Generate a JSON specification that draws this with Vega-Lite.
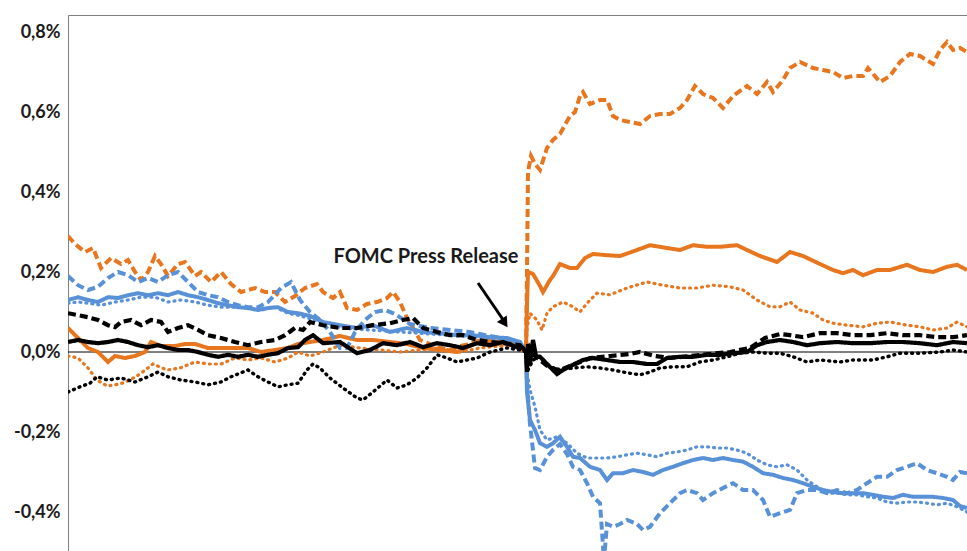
{
"$schema": "https://vega.github.io/schema/vega-lite/v6.json",
"width": 900, "height": 536,
"autosize": "none",
"padding": {"left": 68, "top": 15, "right": 0, "bottom": 0},
"background": "white",
"config": {"view": {"stroke": "#7f7f7f", "strokeWidth": 1}},
"datasets": {
"lines": [
{"s":"od","t":0,"v":0.29},{"s":"od","t":7,"v":0.27},{"s":"od","t":17,"v":0.25},{"s":"od","t":25,"v":0.26},{"s":"od","t":33,"v":0.21},{"s":"od","t":43,"v":0.235},{"s":"od","t":53,"v":0.22},{"s":"od","t":60,"v":0.23},{"s":"od","t":67,"v":0.2},{"s":"od","t":73,"v":0.18},{"s":"od","t":80,"v":0.2},{"s":"od","t":87,"v":0.24},{"s":"od","t":93,"v":0.22},{"s":"od","t":100,"v":0.19},{"s":"od","t":110,"v":0.22},{"s":"od","t":117,"v":0.225},{"s":"od","t":127,"v":0.19},{"s":"od","t":133,"v":0.2},{"s":"od","t":143,"v":0.175},{"s":"od","t":153,"v":0.2},{"s":"od","t":163,"v":0.17},{"s":"od","t":173,"v":0.15},{"s":"od","t":187,"v":0.16},{"s":"od","t":197,"v":0.15},{"s":"od","t":207,"v":0.15},{"s":"od","t":217,"v":0.125},{"s":"od","t":227,"v":0.14},{"s":"od","t":237,"v":0.16},{"s":"od","t":249,"v":0.17},{"s":"od","t":255,"v":0.15},{"s":"od","t":265,"v":0.135},{"s":"od","t":272,"v":0.15},{"s":"od","t":279,"v":0.11},{"s":"od","t":289,"v":0.105},{"s":"od","t":299,"v":0.12},{"s":"od","t":309,"v":0.125},{"s":"od","t":319,"v":0.135},{"s":"od","t":325,"v":0.15},{"s":"od","t":332,"v":0.125},{"s":"od","t":339,"v":0.085},{"s":"od","t":345,"v":0.06},{"s":"od","t":352,"v":0.03},{"s":"od","t":362,"v":0.02},{"s":"od","t":372,"v":0.01},{"s":"od","t":382,"v":0.005},{"s":"od","t":392,"v":0.015},{"s":"od","t":402,"v":0.02},{"s":"od","t":412,"v":0.03},{"s":"od","t":422,"v":0.025},{"s":"od","t":432,"v":0.02},{"s":"od","t":442,"v":0.02},{"s":"od","t":452,"v":0.01},{"s":"od","t":458,"v":0},{"s":"od","t":459,"v":0.2},{"s":"od","t":460,"v":0.45},{"s":"od","t":463,"v":0.49},{"s":"od","t":467,"v":0.47},{"s":"od","t":472,"v":0.455},{"s":"od","t":479,"v":0.51},{"s":"od","t":485,"v":0.53},{"s":"od","t":492,"v":0.545},{"s":"od","t":502,"v":0.59},{"s":"od","t":507,"v":0.6},{"s":"od","t":512,"v":0.64},{"s":"od","t":515,"v":0.65},{"s":"od","t":522,"v":0.62},{"s":"od","t":532,"v":0.63},{"s":"od","t":539,"v":0.63},{"s":"od","t":545,"v":0.59},{"s":"od","t":552,"v":0.58},{"s":"od","t":562,"v":0.575},{"s":"od","t":572,"v":0.57},{"s":"od","t":582,"v":0.59},{"s":"od","t":592,"v":0.595},{"s":"od","t":602,"v":0.595},{"s":"od","t":612,"v":0.61},{"s":"od","t":619,"v":0.63},{"s":"od","t":627,"v":0.665},{"s":"od","t":635,"v":0.645},{"s":"od","t":645,"v":0.635},{"s":"od","t":655,"v":0.61},{"s":"od","t":665,"v":0.64},{"s":"od","t":679,"v":0.665},{"s":"od","t":689,"v":0.645},{"s":"od","t":699,"v":0.675},{"s":"od","t":705,"v":0.65},{"s":"od","t":715,"v":0.68},{"s":"od","t":722,"v":0.71},{"s":"od","t":732,"v":0.725},{"s":"od","t":745,"v":0.71},{"s":"od","t":755,"v":0.705},{"s":"od","t":765,"v":0.7},{"s":"od","t":775,"v":0.685},{"s":"od","t":785,"v":0.69},{"s":"od","t":795,"v":0.69},{"s":"od","t":800,"v":0.71},{"s":"od","t":812,"v":0.675},{"s":"od","t":822,"v":0.69},{"s":"od","t":832,"v":0.725},{"s":"od","t":842,"v":0.745},{"s":"od","t":852,"v":0.74},{"s":"od","t":865,"v":0.72},{"s":"od","t":872,"v":0.755},{"s":"od","t":879,"v":0.775},{"s":"od","t":885,"v":0.755},{"s":"od","t":892,"v":0.76},{"s":"od","t":899,"v":0.75},
{"s":"os","t":0,"v":0.06},{"s":"os","t":10,"v":0.035},{"s":"os","t":20,"v":0.01},{"s":"os","t":30,"v":0},{"s":"os","t":40,"v":-0.025},{"s":"os","t":47,"v":-0.01},{"s":"os","t":57,"v":-0.015},{"s":"os","t":67,"v":-0.01},{"s":"os","t":77,"v":0},{"s":"os","t":83,"v":0.025},{"s":"os","t":93,"v":0.015},{"s":"os","t":107,"v":0.015},{"s":"os","t":117,"v":0.02},{"s":"os","t":127,"v":0.02},{"s":"os","t":140,"v":0.01},{"s":"os","t":153,"v":0.01},{"s":"os","t":167,"v":0.01},{"s":"os","t":180,"v":0.01},{"s":"os","t":193,"v":0},{"s":"os","t":207,"v":0.005},{"s":"os","t":220,"v":0.01},{"s":"os","t":230,"v":0.02},{"s":"os","t":242,"v":0.025},{"s":"os","t":255,"v":0.03},{"s":"os","t":272,"v":0.04},{"s":"os","t":289,"v":0.03},{"s":"os","t":305,"v":0.03},{"s":"os","t":322,"v":0.025},{"s":"os","t":339,"v":0.02},{"s":"os","t":355,"v":0.01},{"s":"os","t":372,"v":0.005},{"s":"os","t":389,"v":0},{"s":"os","t":402,"v":0.015},{"s":"os","t":415,"v":0.03},{"s":"os","t":429,"v":0.025},{"s":"os","t":442,"v":0.03},{"s":"os","t":452,"v":0.02},{"s":"os","t":458,"v":0},{"s":"os","t":459,"v":0.12},{"s":"os","t":460,"v":0.2},{"s":"os","t":465,"v":0.195},{"s":"os","t":472,"v":0.165},{"s":"os","t":475,"v":0.15},{"s":"os","t":482,"v":0.18},{"s":"os","t":485,"v":0.19},{"s":"os","t":492,"v":0.22},{"s":"os","t":502,"v":0.21},{"s":"os","t":509,"v":0.21},{"s":"os","t":517,"v":0.235},{"s":"os","t":525,"v":0.245},{"s":"os","t":539,"v":0.242},{"s":"os","t":552,"v":0.24},{"s":"os","t":569,"v":0.255},{"s":"os","t":582,"v":0.267},{"s":"os","t":599,"v":0.26},{"s":"os","t":612,"v":0.255},{"s":"os","t":625,"v":0.267},{"s":"os","t":639,"v":0.263},{"s":"os","t":652,"v":0.263},{"s":"os","t":669,"v":0.267},{"s":"os","t":679,"v":0.255},{"s":"os","t":692,"v":0.24},{"s":"os","t":709,"v":0.225},{"s":"os","t":722,"v":0.25},{"s":"os","t":735,"v":0.24},{"s":"os","t":752,"v":0.22},{"s":"os","t":765,"v":0.205},{"s":"os","t":775,"v":0.197},{"s":"os","t":785,"v":0.205},{"s":"os","t":795,"v":0.192},{"s":"os","t":809,"v":0.205},{"s":"os","t":822,"v":0.205},{"s":"os","t":839,"v":0.218},{"s":"os","t":852,"v":0.205},{"s":"os","t":865,"v":0.2},{"s":"os","t":879,"v":0.213},{"s":"os","t":889,"v":0.218},{"s":"os","t":899,"v":0.205},
{"s":"ot","t":0,"v":-0.01},{"s":"ot","t":10,"v":-0.015},{"s":"ot","t":20,"v":-0.04},{"s":"ot","t":29,"v":-0.07},{"s":"ot","t":39,"v":-0.085},{"s":"ot","t":52,"v":-0.08},{"s":"ot","t":62,"v":-0.07},{"s":"ot","t":72,"v":-0.055},{"s":"ot","t":85,"v":-0.03},{"s":"ot","t":99,"v":-0.045},{"s":"ot","t":112,"v":-0.04},{"s":"ot","t":127,"v":-0.025},{"s":"ot","t":140,"v":-0.03},{"s":"ot","t":153,"v":-0.03},{"s":"ot","t":167,"v":-0.015},{"s":"ot","t":180,"v":-0.02},{"s":"ot","t":193,"v":-0.015},{"s":"ot","t":207,"v":-0.025},{"s":"ot","t":220,"v":-0.015},{"s":"ot","t":230,"v":0},{"s":"ot","t":242,"v":-0.01},{"s":"ot","t":255,"v":0},{"s":"ot","t":272,"v":0.017},{"s":"ot","t":292,"v":0.01},{"s":"ot","t":312,"v":0.005},{"s":"ot","t":332,"v":0},{"s":"ot","t":352,"v":0.005},{"s":"ot","t":372,"v":0.01},{"s":"ot","t":392,"v":0},{"s":"ot","t":412,"v":0.01},{"s":"ot","t":432,"v":0.015},{"s":"ot","t":447,"v":0.01},{"s":"ot","t":458,"v":0},{"s":"ot","t":459,"v":0.06},{"s":"ot","t":462,"v":0.097},{"s":"ot","t":469,"v":0.08},{"s":"ot","t":474,"v":0.055},{"s":"ot","t":479,"v":0.097},{"s":"ot","t":485,"v":0.113},{"s":"ot","t":495,"v":0.125},{"s":"ot","t":505,"v":0.113},{"s":"ot","t":512,"v":0.1},{"s":"ot","t":519,"v":0.122},{"s":"ot","t":529,"v":0.147},{"s":"ot","t":542,"v":0.143},{"s":"ot","t":559,"v":0.16},{"s":"ot","t":579,"v":0.175},{"s":"ot","t":595,"v":0.167},{"s":"ot","t":612,"v":0.16},{"s":"ot","t":629,"v":0.16},{"s":"ot","t":645,"v":0.167},{"s":"ot","t":662,"v":0.163},{"s":"ot","t":675,"v":0.155},{"s":"ot","t":689,"v":0.13},{"s":"ot","t":702,"v":0.113},{"s":"ot","t":712,"v":0.113},{"s":"ot","t":722,"v":0.125},{"s":"ot","t":732,"v":0.105},{"s":"ot","t":745,"v":0.097},{"s":"ot","t":755,"v":0.08},{"s":"ot","t":765,"v":0.072},{"s":"ot","t":779,"v":0.067},{"s":"ot","t":795,"v":0.063},{"s":"ot","t":809,"v":0.072},{"s":"ot","t":822,"v":0.075},{"s":"ot","t":839,"v":0.067},{"s":"ot","t":852,"v":0.063},{"s":"ot","t":865,"v":0.055},{"s":"ot","t":879,"v":0.06},{"s":"ot","t":889,"v":0.075},{"s":"ot","t":899,"v":0.063},
{"s":"bd","t":0,"v":0.19},{"s":"bd","t":10,"v":0.167},{"s":"bd","t":20,"v":0.155},{"s":"bd","t":30,"v":0.163},{"s":"bd","t":40,"v":0.185},{"s":"bd","t":50,"v":0.2},{"s":"bd","t":60,"v":0.192},{"s":"bd","t":70,"v":0.175},{"s":"bd","t":80,"v":0.185},{"s":"bd","t":90,"v":0.175},{"s":"bd","t":100,"v":0.192},{"s":"bd","t":110,"v":0.2},{"s":"bd","t":120,"v":0.175},{"s":"bd","t":130,"v":0.15},{"s":"bd","t":140,"v":0.142},{"s":"bd","t":150,"v":0.137},{"s":"bd","t":160,"v":0.125},{"s":"bd","t":170,"v":0.117},{"s":"bd","t":180,"v":0.112},{"s":"bd","t":190,"v":0.112},{"s":"bd","t":200,"v":0.125},{"s":"bd","t":213,"v":0.16},{"s":"bd","t":223,"v":0.175},{"s":"bd","t":232,"v":0.13},{"s":"bd","t":242,"v":0.1},{"s":"bd","t":252,"v":0.08},{"s":"bd","t":262,"v":0.05},{"s":"bd","t":272,"v":0.01},{"s":"bd","t":279,"v":0.01},{"s":"bd","t":287,"v":0.05},{"s":"bd","t":297,"v":0.08},{"s":"bd","t":307,"v":0.1},{"s":"bd","t":317,"v":0.105},{"s":"bd","t":327,"v":0.095},{"s":"bd","t":342,"v":0.07},{"s":"bd","t":362,"v":0.06},{"s":"bd","t":382,"v":0.055},{"s":"bd","t":402,"v":0.05},{"s":"bd","t":422,"v":0.04},{"s":"bd","t":442,"v":0.03},{"s":"bd","t":452,"v":0.02},{"s":"bd","t":458,"v":0},{"s":"bd","t":459,"v":-0.08},{"s":"bd","t":462,"v":-0.18},{"s":"bd","t":467,"v":-0.29},{"s":"bd","t":472,"v":-0.295},{"s":"bd","t":479,"v":-0.262},{"s":"bd","t":485,"v":-0.245},{"s":"bd","t":492,"v":-0.23},{"s":"bd","t":499,"v":-0.255},{"s":"bd","t":505,"v":-0.287},{"s":"bd","t":512,"v":-0.295},{"s":"bd","t":519,"v":-0.328},{"s":"bd","t":525,"v":-0.362},{"s":"bd","t":532,"v":-0.378},{"s":"bd","t":536,"v":-0.52},{"s":"bd","t":539,"v":-0.43},{"s":"bd","t":545,"v":-0.437},{"s":"bd","t":552,"v":-0.43},{"s":"bd","t":559,"v":-0.42},{"s":"bd","t":569,"v":-0.43},{"s":"bd","t":575,"v":-0.445},{"s":"bd","t":582,"v":-0.437},{"s":"bd","t":592,"v":-0.403},{"s":"bd","t":602,"v":-0.378},{"s":"bd","t":612,"v":-0.353},{"s":"bd","t":619,"v":-0.345},{"s":"bd","t":629,"v":-0.353},{"s":"bd","t":635,"v":-0.37},{"s":"bd","t":645,"v":-0.353},{"s":"bd","t":655,"v":-0.34},{"s":"bd","t":665,"v":-0.328},{"s":"bd","t":675,"v":-0.345},{"s":"bd","t":685,"v":-0.345},{"s":"bd","t":695,"v":-0.37},{"s":"bd","t":702,"v":-0.412},{"s":"bd","t":712,"v":-0.403},{"s":"bd","t":722,"v":-0.395},{"s":"bd","t":729,"v":-0.353},{"s":"bd","t":739,"v":-0.345},{"s":"bd","t":749,"v":-0.345},{"s":"bd","t":759,"v":-0.353},{"s":"bd","t":769,"v":-0.345},{"s":"bd","t":779,"v":-0.353},{"s":"bd","t":789,"v":-0.345},{"s":"bd","t":799,"v":-0.328},{"s":"bd","t":809,"v":-0.312},{"s":"bd","t":819,"v":-0.312},{"s":"bd","t":829,"v":-0.295},{"s":"bd","t":839,"v":-0.287},{"s":"bd","t":849,"v":-0.278},{"s":"bd","t":859,"v":-0.295},{"s":"bd","t":869,"v":-0.303},{"s":"bd","t":879,"v":-0.312},{"s":"bd","t":885,"v":-0.32},{"s":"bd","t":892,"v":-0.3},{"s":"bd","t":899,"v":-0.303},
{"s":"bs","t":0,"v":0.13},{"s":"bs","t":10,"v":0.137},{"s":"bs","t":20,"v":0.13},{"s":"bs","t":30,"v":0.125},{"s":"bs","t":40,"v":0.137},{"s":"bs","t":50,"v":0.135},{"s":"bs","t":60,"v":0.142},{"s":"bs","t":70,"v":0.147},{"s":"bs","t":80,"v":0.142},{"s":"bs","t":90,"v":0.147},{"s":"bs","t":100,"v":0.142},{"s":"bs","t":110,"v":0.15},{"s":"bs","t":120,"v":0.142},{"s":"bs","t":130,"v":0.137},{"s":"bs","t":140,"v":0.13},{"s":"bs","t":150,"v":0.122},{"s":"bs","t":160,"v":0.117},{"s":"bs","t":170,"v":0.112},{"s":"bs","t":180,"v":0.11},{"s":"bs","t":190,"v":0.105},{"s":"bs","t":200,"v":0.11},{"s":"bs","t":210,"v":0.112},{"s":"bs","t":220,"v":0.1},{"s":"bs","t":230,"v":0.097},{"s":"bs","t":242,"v":0.09},{"s":"bs","t":255,"v":0.075},{"s":"bs","t":272,"v":0.067},{"s":"bs","t":289,"v":0.06},{"s":"bs","t":305,"v":0.067},{"s":"bs","t":322,"v":0.05},{"s":"bs","t":339,"v":0.06},{"s":"bs","t":355,"v":0.05},{"s":"bs","t":372,"v":0.047},{"s":"bs","t":389,"v":0.042},{"s":"bs","t":405,"v":0.042},{"s":"bs","t":422,"v":0.037},{"s":"bs","t":439,"v":0.035},{"s":"bs","t":452,"v":0.025},{"s":"bs","t":458,"v":0},{"s":"bs","t":459,"v":-0.1},{"s":"bs","t":462,"v":-0.17},{"s":"bs","t":467,"v":-0.195},{"s":"bs","t":472,"v":-0.228},{"s":"bs","t":479,"v":-0.237},{"s":"bs","t":485,"v":-0.228},{"s":"bs","t":492,"v":-0.212},{"s":"bs","t":499,"v":-0.237},{"s":"bs","t":505,"v":-0.262},{"s":"bs","t":512,"v":-0.265},{"s":"bs","t":522,"v":-0.287},{"s":"bs","t":532,"v":-0.295},{"s":"bs","t":539,"v":-0.32},{"s":"bs","t":545,"v":-0.303},{"s":"bs","t":555,"v":-0.303},{"s":"bs","t":565,"v":-0.295},{"s":"bs","t":575,"v":-0.3},{"s":"bs","t":585,"v":-0.307},{"s":"bs","t":595,"v":-0.295},{"s":"bs","t":605,"v":-0.287},{"s":"bs","t":615,"v":-0.278},{"s":"bs","t":625,"v":-0.27},{"s":"bs","t":635,"v":-0.265},{"s":"bs","t":645,"v":-0.27},{"s":"bs","t":655,"v":-0.265},{"s":"bs","t":665,"v":-0.27},{"s":"bs","t":675,"v":-0.274},{"s":"bs","t":685,"v":-0.287},{"s":"bs","t":695,"v":-0.303},{"s":"bs","t":705,"v":-0.307},{"s":"bs","t":715,"v":-0.315},{"s":"bs","t":725,"v":-0.32},{"s":"bs","t":735,"v":-0.328},{"s":"bs","t":745,"v":-0.337},{"s":"bs","t":755,"v":-0.345},{"s":"bs","t":765,"v":-0.35},{"s":"bs","t":775,"v":-0.353},{"s":"bs","t":785,"v":-0.353},{"s":"bs","t":795,"v":-0.353},{"s":"bs","t":805,"v":-0.357},{"s":"bs","t":815,"v":-0.362},{"s":"bs","t":825,"v":-0.365},{"s":"bs","t":835,"v":-0.357},{"s":"bs","t":845,"v":-0.362},{"s":"bs","t":855,"v":-0.362},{"s":"bs","t":865,"v":-0.362},{"s":"bs","t":875,"v":-0.365},{"s":"bs","t":885,"v":-0.37},{"s":"bs","t":892,"v":-0.385},{"s":"bs","t":899,"v":-0.39},
{"s":"bt","t":0,"v":0.122},{"s":"bt","t":10,"v":0.125},{"s":"bt","t":20,"v":0.122},{"s":"bt","t":33,"v":0.117},{"s":"bt","t":47,"v":0.125},{"s":"bt","t":60,"v":0.13},{"s":"bt","t":73,"v":0.137},{"s":"bt","t":87,"v":0.137},{"s":"bt","t":100,"v":0.125},{"s":"bt","t":113,"v":0.13},{"s":"bt","t":127,"v":0.125},{"s":"bt","t":140,"v":0.117},{"s":"bt","t":153,"v":0.112},{"s":"bt","t":167,"v":0.112},{"s":"bt","t":180,"v":0.11},{"s":"bt","t":193,"v":0.105},{"s":"bt","t":207,"v":0.112},{"s":"bt","t":220,"v":0.097},{"s":"bt","t":230,"v":0.092},{"s":"bt","t":247,"v":0.08},{"s":"bt","t":272,"v":0.06},{"s":"bt","t":302,"v":0.055},{"s":"bt","t":332,"v":0.05},{"s":"bt","t":362,"v":0.045},{"s":"bt","t":392,"v":0.04},{"s":"bt","t":422,"v":0.035},{"s":"bt","t":442,"v":0.03},{"s":"bt","t":452,"v":0.02},{"s":"bt","t":458,"v":0},{"s":"bt","t":459,"v":-0.05},{"s":"bt","t":462,"v":-0.095},{"s":"bt","t":467,"v":-0.137},{"s":"bt","t":472,"v":-0.195},{"s":"bt","t":479,"v":-0.22},{"s":"bt","t":489,"v":-0.212},{"s":"bt","t":499,"v":-0.228},{"s":"bt","t":509,"v":-0.253},{"s":"bt","t":519,"v":-0.265},{"s":"bt","t":529,"v":-0.265},{"s":"bt","t":539,"v":-0.265},{"s":"bt","t":549,"v":-0.262},{"s":"bt","t":559,"v":-0.257},{"s":"bt","t":569,"v":-0.253},{"s":"bt","t":579,"v":-0.257},{"s":"bt","t":589,"v":-0.262},{"s":"bt","t":599,"v":-0.253},{"s":"bt","t":609,"v":-0.25},{"s":"bt","t":619,"v":-0.245},{"s":"bt","t":629,"v":-0.237},{"s":"bt","t":639,"v":-0.237},{"s":"bt","t":649,"v":-0.24},{"s":"bt","t":659,"v":-0.24},{"s":"bt","t":669,"v":-0.245},{"s":"bt","t":679,"v":-0.253},{"s":"bt","t":689,"v":-0.27},{"s":"bt","t":699,"v":-0.282},{"s":"bt","t":709,"v":-0.287},{"s":"bt","t":719,"v":-0.282},{"s":"bt","t":729,"v":-0.295},{"s":"bt","t":739,"v":-0.32},{"s":"bt","t":749,"v":-0.337},{"s":"bt","t":759,"v":-0.353},{"s":"bt","t":769,"v":-0.353},{"s":"bt","t":779,"v":-0.357},{"s":"bt","t":789,"v":-0.357},{"s":"bt","t":799,"v":-0.362},{"s":"bt","t":809,"v":-0.365},{"s":"bt","t":819,"v":-0.375},{"s":"bt","t":829,"v":-0.378},{"s":"bt","t":839,"v":-0.375},{"s":"bt","t":849,"v":-0.375},{"s":"bt","t":859,"v":-0.378},{"s":"bt","t":869,"v":-0.382},{"s":"bt","t":879,"v":-0.378},{"s":"bt","t":889,"v":-0.387},{"s":"bt","t":899,"v":-0.4},
{"s":"kd","t":0,"v":0.097},{"s":"kd","t":10,"v":0.092},{"s":"kd","t":20,"v":0.087},{"s":"kd","t":30,"v":0.08},{"s":"kd","t":40,"v":0.067},{"s":"kd","t":47,"v":0.062},{"s":"kd","t":53,"v":0.075},{"s":"kd","t":63,"v":0.08},{"s":"kd","t":73,"v":0.067},{"s":"kd","t":83,"v":0.08},{"s":"kd","t":93,"v":0.075},{"s":"kd","t":100,"v":0.05},{"s":"kd","t":110,"v":0.06},{"s":"kd","t":120,"v":0.067},{"s":"kd","t":130,"v":0.055},{"s":"kd","t":140,"v":0.042},{"s":"kd","t":153,"v":0.035},{"s":"kd","t":167,"v":0.025},{"s":"kd","t":180,"v":0.017},{"s":"kd","t":193,"v":0.025},{"s":"kd","t":207,"v":0.03},{"s":"kd","t":217,"v":0.042},{"s":"kd","t":227,"v":0.06},{"s":"kd","t":235,"v":0.055},{"s":"kd","t":242,"v":0.075},{"s":"kd","t":255,"v":0.067},{"s":"kd","t":272,"v":0.06},{"s":"kd","t":289,"v":0.06},{"s":"kd","t":305,"v":0.067},{"s":"kd","t":322,"v":0.072},{"s":"kd","t":335,"v":0.08},{"s":"kd","t":345,"v":0.085},{"s":"kd","t":355,"v":0.06},{"s":"kd","t":369,"v":0.05},{"s":"kd","t":382,"v":0.042},{"s":"kd","t":395,"v":0.042},{"s":"kd","t":409,"v":0.03},{"s":"kd","t":422,"v":0.025},{"s":"kd","t":435,"v":0.022},{"s":"kd","t":452,"v":0.017},{"s":"kd","t":458,"v":0},{"s":"kd","t":459,"v":-0.03},{"s":"kd","t":462,"v":0.01},{"s":"kd","t":467,"v":-0.01},{"s":"kd","t":472,"v":-0.02},{"s":"kd","t":482,"v":-0.04},{"s":"kd","t":492,"v":-0.045},{"s":"kd","t":507,"v":-0.03},{"s":"kd","t":522,"v":-0.015},{"s":"kd","t":542,"v":-0.01},{"s":"kd","t":562,"v":-0.005},{"s":"kd","t":572,"v":0},{"s":"kd","t":587,"v":-0.01},{"s":"kd","t":602,"v":-0.015},{"s":"kd","t":622,"v":-0.01},{"s":"kd","t":642,"v":-0.005},{"s":"kd","t":662,"v":0},{"s":"kd","t":682,"v":0.01},{"s":"kd","t":697,"v":0.035},{"s":"kd","t":712,"v":0.045},{"s":"kd","t":722,"v":0.042},{"s":"kd","t":735,"v":0.037},{"s":"kd","t":752,"v":0.047},{"s":"kd","t":769,"v":0.047},{"s":"kd","t":785,"v":0.042},{"s":"kd","t":802,"v":0.042},{"s":"kd","t":819,"v":0.047},{"s":"kd","t":835,"v":0.042},{"s":"kd","t":852,"v":0.042},{"s":"kd","t":869,"v":0.037},{"s":"kd","t":885,"v":0.037},{"s":"kd","t":899,"v":0.042},
{"s":"ks","t":0,"v":0.025},{"s":"ks","t":10,"v":0.03},{"s":"ks","t":20,"v":0.025},{"s":"ks","t":30,"v":0.022},{"s":"ks","t":40,"v":0.025},{"s":"ks","t":50,"v":0.03},{"s":"ks","t":60,"v":0.025},{"s":"ks","t":70,"v":0.017},{"s":"ks","t":80,"v":0.012},{"s":"ks","t":90,"v":0.017},{"s":"ks","t":100,"v":0.01},{"s":"ks","t":110,"v":0.005},{"s":"ks","t":120,"v":0.005},{"s":"ks","t":130,"v":0},{"s":"ks","t":140,"v":-0.007},{"s":"ks","t":150,"v":-0.012},{"s":"ks","t":160,"v":-0.007},{"s":"ks","t":170,"v":-0.012},{"s":"ks","t":180,"v":-0.007},{"s":"ks","t":190,"v":-0.012},{"s":"ks","t":200,"v":-0.007},{"s":"ks","t":210,"v":-0.003},{"s":"ks","t":220,"v":0.01},{"s":"ks","t":230,"v":0.012},{"s":"ks","t":237,"v":0.03},{"s":"ks","t":245,"v":0.042},{"s":"ks","t":255,"v":0.022},{"s":"ks","t":272,"v":0.025},{"s":"ks","t":289,"v":-0.003},{"s":"ks","t":302,"v":0.005},{"s":"ks","t":315,"v":0.022},{"s":"ks","t":329,"v":0.017},{"s":"ks","t":342,"v":0.025},{"s":"ks","t":355,"v":0.012},{"s":"ks","t":369,"v":0.022},{"s":"ks","t":382,"v":0.017},{"s":"ks","t":395,"v":0.01},{"s":"ks","t":409,"v":0.022},{"s":"ks","t":422,"v":0.017},{"s":"ks","t":435,"v":0.025},{"s":"ks","t":449,"v":0.012},{"s":"ks","t":455,"v":0.01},{"s":"ks","t":458,"v":0},{"s":"ks","t":459,"v":-0.05},{"s":"ks","t":460,"v":0.02},{"s":"ks","t":462,"v":-0.03},{"s":"ks","t":465,"v":0.03},{"s":"ks","t":468,"v":-0.01},{"s":"ks","t":472,"v":-0.012},{"s":"ks","t":479,"v":-0.03},{"s":"ks","t":489,"v":-0.055},{"s":"ks","t":495,"v":-0.045},{"s":"ks","t":505,"v":-0.032},{"s":"ks","t":515,"v":-0.02},{"s":"ks","t":525,"v":-0.015},{"s":"ks","t":539,"v":-0.02},{"s":"ks","t":552,"v":-0.025},{"s":"ks","t":565,"v":-0.025},{"s":"ks","t":579,"v":-0.03},{"s":"ks","t":589,"v":-0.03},{"s":"ks","t":599,"v":-0.015},{"s":"ks","t":612,"v":-0.012},{"s":"ks","t":625,"v":-0.012},{"s":"ks","t":639,"v":-0.007},{"s":"ks","t":652,"v":-0.007},{"s":"ks","t":665,"v":-0.003},{"s":"ks","t":679,"v":0},{"s":"ks","t":689,"v":0.017},{"s":"ks","t":699,"v":0.025},{"s":"ks","t":712,"v":0.03},{"s":"ks","t":725,"v":0.025},{"s":"ks","t":739,"v":0.017},{"s":"ks","t":752,"v":0.022},{"s":"ks","t":769,"v":0.025},{"s":"ks","t":785,"v":0.022},{"s":"ks","t":802,"v":0.022},{"s":"ks","t":819,"v":0.025},{"s":"ks","t":835,"v":0.025},{"s":"ks","t":852,"v":0.022},{"s":"ks","t":869,"v":0.017},{"s":"ks","t":885,"v":0.025},{"s":"ks","t":899,"v":0.022},
{"s":"kt","t":0,"v":-0.1},{"s":"kt","t":12,"v":-0.087},{"s":"kt","t":22,"v":-0.078},{"s":"kt","t":29,"v":-0.062},{"s":"kt","t":40,"v":-0.07},{"s":"kt","t":53,"v":-0.065},{"s":"kt","t":67,"v":-0.075},{"s":"kt","t":80,"v":-0.062},{"s":"kt","t":90,"v":-0.05},{"s":"kt","t":100,"v":-0.062},{"s":"kt","t":113,"v":-0.07},{"s":"kt","t":127,"v":-0.075},{"s":"kt","t":140,"v":-0.082},{"s":"kt","t":153,"v":-0.075},{"s":"kt","t":163,"v":-0.062},{"s":"kt","t":173,"v":-0.052},{"s":"kt","t":180,"v":-0.045},{"s":"kt","t":190,"v":-0.062},{"s":"kt","t":200,"v":-0.075},{"s":"kt","t":210,"v":-0.087},{"s":"kt","t":220,"v":-0.082},{"s":"kt","t":230,"v":-0.078},{"s":"kt","t":239,"v":-0.045},{"s":"kt","t":245,"v":-0.03},{"s":"kt","t":252,"v":-0.04},{"s":"kt","t":262,"v":-0.065},{"s":"kt","t":275,"v":-0.09},{"s":"kt","t":289,"v":-0.115},{"s":"kt","t":295,"v":-0.12},{"s":"kt","t":305,"v":-0.1},{"s":"kt","t":319,"v":-0.07},{"s":"kt","t":329,"v":-0.09},{"s":"kt","t":339,"v":-0.082},{"s":"kt","t":349,"v":-0.065},{"s":"kt","t":359,"v":-0.04},{"s":"kt","t":369,"v":-0.007},{"s":"kt","t":379,"v":-0.015},{"s":"kt","t":389,"v":-0.025},{"s":"kt","t":399,"v":-0.02},{"s":"kt","t":409,"v":-0.015},{"s":"kt","t":422,"v":0},{"s":"kt","t":439,"v":0.01},{"s":"kt","t":452,"v":0.005},{"s":"kt","t":458,"v":0},{"s":"kt","t":459,"v":-0.05},{"s":"kt","t":465,"v":-0.02},{"s":"kt","t":472,"v":-0.012},{"s":"kt","t":482,"v":-0.037},{"s":"kt","t":492,"v":-0.045},{"s":"kt","t":505,"v":-0.04},{"s":"kt","t":519,"v":-0.037},{"s":"kt","t":532,"v":-0.04},{"s":"kt","t":545,"v":-0.045},{"s":"kt","t":559,"v":-0.052},{"s":"kt","t":572,"v":-0.057},{"s":"kt","t":582,"v":-0.05},{"s":"kt","t":592,"v":-0.04},{"s":"kt","t":605,"v":-0.037},{"s":"kt","t":619,"v":-0.037},{"s":"kt","t":632,"v":-0.025},{"s":"kt","t":645,"v":-0.02},{"s":"kt","t":659,"v":-0.012},{"s":"kt","t":672,"v":-0.003},{"s":"kt","t":685,"v":0},{"s":"kt","t":699,"v":-0.003},{"s":"kt","t":712,"v":-0.003},{"s":"kt","t":725,"v":-0.012},{"s":"kt","t":739,"v":-0.025},{"s":"kt","t":752,"v":-0.02},{"s":"kt","t":772,"v":-0.025},{"s":"kt","t":785,"v":-0.02},{"s":"kt","t":805,"v":-0.02},{"s":"kt","t":819,"v":-0.012},{"s":"kt","t":832,"v":-0.003},{"s":"kt","t":852,"v":-0.003},{"s":"kt","t":872,"v":0},{"s":"kt","t":885,"v":0.005},{"s":"kt","t":899,"v":0}
]
},
"layer": [
{
"data": {"values": [{"v": 0}]},
"mark": {"type": "rule", "color": "#000000", "strokeWidth": 1},
"encoding": {
"y": {"field": "v", "type": "quantitative", "title": null,
 "scale": {"domain": [-0.4975, 0.8425], "nice": false, "zero": false},
 "axis": {"values": [-0.4, -0.2, 0, 0.2, 0.4, 0.6, 0.8], "title": null, "grid": false, "ticks": false, "domain": false,
  "labelExpr": "(datum.value < 0 ? '-' : '') + replace(format(abs(datum.value), '.1f'), '.', ',') + '%'",
  "labelFont": "Lato", "labelFontWeight": "bold", "labelFontSize": 18, "labelColor": "#1a1a1a", "labelPadding": 8}}
}
},
{
"data": {"name": "lines"},
"transform": [{"filter": {"field": "s", "oneOf": ["od", "os"]}}],
"mark": {"type": "line", "strokeWidth": 4, "clip": true},
"encoding": {
"x": {"field": "t", "type": "quantitative", "scale": {"domain": [0, 900], "nice": false, "zero": false}, "axis": null},
"y": {"field": "v", "type": "quantitative", "title": null},
"color": {"field": "s", "type": "nominal", "legend": null, "scale": {"domain": ["od","os","ot","bd","bs","bt","kd","ks","kt"], "range": ["#E8761E","#E8761E","#E8761E","#5891D7","#5891D7","#5891D7","#000000","#000000","#000000"]}},
"strokeDash": {"field": "s", "type": "nominal", "legend": null, "scale": {"domain": ["od","os","ot","bd","bs","bt","kd","ks","kt"], "range": [[8,4],[1,0],[1,5],[8,4],[1,0],[1,5],[8,4],[1,0],[1,5]]}}
}
},
{
"data": {"name": "lines"},
"transform": [{"filter": {"field": "s", "oneOf": ["ot"]}}],
"mark": {"type": "line", "strokeWidth": 3.2, "strokeCap": "round", "clip": true},
"encoding": {
"x": {"field": "t", "type": "quantitative", "axis": null},
"y": {"field": "v", "type": "quantitative", "title": null},
"color": {"field": "s", "type": "nominal", "legend": null},
"strokeDash": {"field": "s", "type": "nominal", "legend": null}
}
},
{
"data": {"name": "lines"},
"transform": [{"filter": {"field": "s", "oneOf": ["bd", "bs"]}}],
"mark": {"type": "line", "strokeWidth": 4, "clip": true},
"encoding": {
"x": {"field": "t", "type": "quantitative", "axis": null},
"y": {"field": "v", "type": "quantitative", "title": null},
"color": {"field": "s", "type": "nominal", "legend": null},
"strokeDash": {"field": "s", "type": "nominal", "legend": null}
}
},
{
"data": {"name": "lines"},
"transform": [{"filter": {"field": "s", "oneOf": ["bt"]}}],
"mark": {"type": "line", "strokeWidth": 3.2, "strokeCap": "round", "clip": true},
"encoding": {
"x": {"field": "t", "type": "quantitative", "axis": null},
"y": {"field": "v", "type": "quantitative", "title": null},
"color": {"field": "s", "type": "nominal", "legend": null},
"strokeDash": {"field": "s", "type": "nominal", "legend": null}
}
},
{
"data": {"name": "lines"},
"transform": [{"filter": {"field": "s", "oneOf": ["kd", "ks"]}}],
"mark": {"type": "line", "strokeWidth": 4.2, "clip": true},
"encoding": {
"x": {"field": "t", "type": "quantitative", "axis": null},
"y": {"field": "v", "type": "quantitative", "title": null},
"color": {"field": "s", "type": "nominal", "legend": null},
"strokeDash": {"field": "s", "type": "nominal", "legend": null}
}
},
{
"data": {"name": "lines"},
"transform": [{"filter": {"field": "s", "oneOf": ["kt"]}}],
"mark": {"type": "line", "strokeWidth": 3.4, "strokeCap": "round", "clip": true},
"encoding": {
"x": {"field": "t", "type": "quantitative", "axis": null},
"y": {"field": "v", "type": "quantitative", "title": null},
"color": {"field": "s", "type": "nominal", "legend": null},
"strokeDash": {"field": "s", "type": "nominal", "legend": null}
}
},
{
"data": {"values": [{"t": 358, "v": 0.2375, "label": "FOMC Press Release"}]},
"mark": {"type": "text", "font": "Lato", "fontWeight": "bold", "fontSize": 20, "align": "center", "baseline": "middle", "color": "#1a1a1a"},
"encoding": {
"x": {"field": "t", "type": "quantitative", "axis": null},
"y": {"field": "v", "type": "quantitative", "title": null},
"text": {"field": "label"}
}
},
{
"data": {"values": [{"t": 410, "v": 0.1725, "t2": 436, "v2": 0.0775}]},
"mark": {"type": "rule", "color": "#000000", "strokeWidth": 3},
"encoding": {
"x": {"field": "t", "type": "quantitative", "axis": null},
"y": {"field": "v", "type": "quantitative", "title": null},
"x2": {"field": "t2"},
"y2": {"field": "v2"}
}
},
{
"data": {"values": [{"t": 436.7, "v": 0.0725}]},
"mark": {"type": "point", "shape": "triangle-down", "angle": 326, "size": 140, "filled": true, "color": "#000000", "opacity": 1},
"encoding": {
"x": {"field": "t", "type": "quantitative", "axis": null},
"y": {"field": "v", "type": "quantitative", "title": null}
}
}
]
}
